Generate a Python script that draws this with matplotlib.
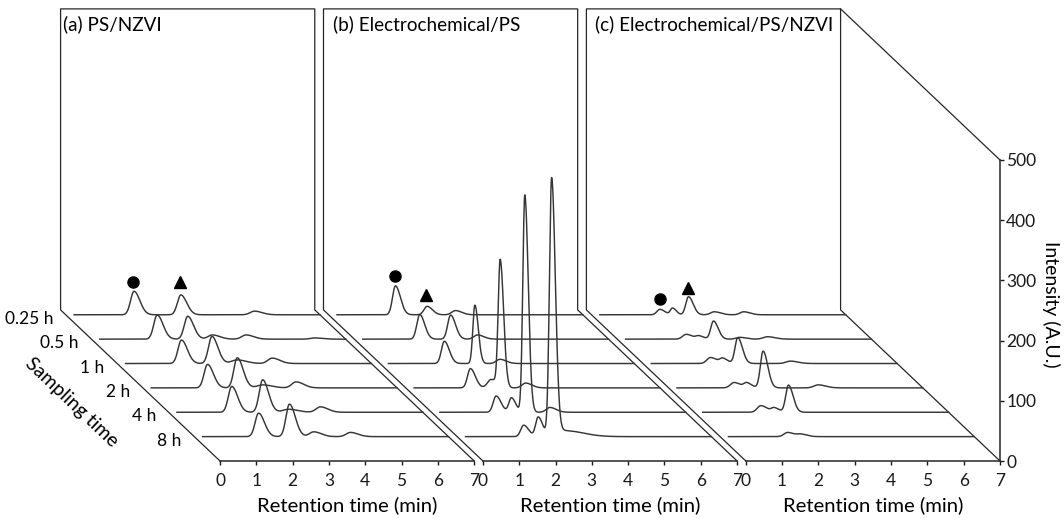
import matplotlib
matplotlib.use("Agg")
import matplotlib.pyplot as plt
import numpy as np

plt.rcParams["font.family"] = ["Lato", "DejaVu Sans"]
plt.rcParams["font.size"] = 14

# sampling times, back row (0.25 h) to front row (8 h)
sampling_labels = ["0.25 h", "0.5 h", "1 h", "2 h", "4 h", "8 h"]
sampling_depth = [6, 5, 4, 3, 2, 1]  # position on the depth axis (0 .. 6.2)

panel_titles = ["(a) PS/NZVI", "(b) Electrochemical/PS", "(c) Electrochemical/PS/NZVI"]
title_shift = [2, 7, 6]  # points right of the back-wall corner

# chromatogram peaks: (retention time [min], height [A.U.], width [min])
peaks_a = [
    [(1.88, 39, 0.095), (3.17, 33, 0.095), (5.20, 6, 0.12)],
    [(1.81, 40, 0.095), (2.65, 38, 0.095), (3.33, 7, 0.12), (4.26, 7, 0.12), (6.15, 2, 0.12)],
    [(1.77, 39, 0.095), (2.61, 45, 0.095), (3.30, 6, 0.15), (4.27, 9, 0.12)],
    [(1.78, 39, 0.095), (2.60, 50, 0.095), (3.30, 5, 0.15), (4.22, 10, 0.12)],
    [(1.74, 43, 0.095), (2.59, 54, 0.095), (3.30, 5, 0.15), (4.18, 9, 0.12)],
    [(1.77, 39, 0.095), (2.62, 54, 0.095), (3.29, 8, 0.12), (4.30, 7, 0.12)],
]
peaks_b = [
    [(1.84, 48, 0.08), (2.71, 14, 0.085), (3.49, 7, 0.10)],
    [(1.80, 41, 0.08), (2.65, 40, 0.08), (3.39, 7, 0.10)],
    [(1.77, 37, 0.08), (2.61, 97, 0.055), (3.30, 7, 0.10)],
    [(1.78, 32, 0.08), (2.35, 14, 0.10), (2.60, 209, 0.055), (3.30, 8, 0.10)],
    [(1.78, 27, 0.08), (2.20, 24, 0.07), (2.57, 361, 0.055), (3.26, 8, 0.10)],
    [(1.83, 19, 0.08), (2.23, 32, 0.07), (2.60, 425, 0.06), (2.95, 10, 0.30)],
]
peaks_c = [
    [(1.88, 9, 0.08), (2.23, 11, 0.06), (2.67, 30, 0.075), (3.38, 5, 0.10), (4.19, 5, 0.10)],
    [(1.90, 8, 0.10), (2.25, 5, 0.08), (2.65, 30, 0.075), (3.37, 3, 0.10), (4.14, 4, 0.12)],
    [(1.86, 10, 0.10), (2.20, 8, 0.08), (2.61, 43, 0.075), (4.06, 4, 0.12)],
    [(1.80, 9, 0.10), (2.15, 8, 0.08), (2.60, 61, 0.075), (4.12, 5, 0.12)],
    [(1.83, 11, 0.10), (2.20, 7, 0.08), (2.59, 45, 0.075)],
    [(1.86, 7, 0.10), (2.22, 4, 0.10)],
]
all_peaks = [peaks_a, peaks_b, peaks_c]

# peak markers on the 0.25 h row: (retention time, intensity)
circle_marks = [(1.86, 54), (1.84, 64), (1.88, 27)]
triangle_marks = [(3.15, 54), (2.69, 33), (2.67, 44)]

T_MAX = 7
GAP = 0.24          # break between panels (min)
DEPTH_MAX = 6.2
DEPTH_DX = -4.39    # shift of the back wall along x (min)
DEPTH_DY = 251      # shift of the back wall along y (A.U.)
I_MAX = 500

BOX = "#262626"
TRACE = "#363636"
TICK_FS = 12.5


def proj(panel, t, inten, depth):
    f = depth / DEPTH_MAX
    return panel * (T_MAX + GAP) + t + f * DEPTH_DX, inten + f * DEPTH_DY


def chromatogram(t, peaks):
    y = np.zeros_like(t)
    for t0, h, w in peaks:
        s = np.where(t < t0, w, 1.7 * w)
        y += h * np.exp(-0.5 * ((t - t0) / s) ** 2)
    return y


fig = plt.figure(figsize=(10.64, 5.18), dpi=100)
ax = fig.add_axes([220 / 1064, 57 / 518, 780 / 1064, 301 / 518])
ax.set_xlim(0, 3 * T_MAX + 2 * GAP)
ax.set_ylim(0, I_MAX)

for side in ["left", "top", "bottom"]:
    ax.spines[side].set_visible(False)
ax.spines["right"].set_color(BOX)
ax.spines["right"].set_linewidth(1.1)
ax.yaxis.tick_right()
ax.set_yticks(range(0, I_MAX + 1, 100))
ax.tick_params(axis="y", direction="out", length=3, width=1, pad=1.5,
               colors="#1a1a1a", labelsize=TICK_FS)

xt = [p * (T_MAX + GAP) + i for p in range(3) for i in range(T_MAX + 1)]
ax.set_xticks(xt)
ax.set_xticklabels([str(i) for p in range(3) for i in range(T_MAX + 1)])
ax.tick_params(axis="x", direction="out", length=3, width=1, pad=5.5,
               colors="#1a1a1a", labelsize=TICK_FS)

t = np.linspace(0.23, T_MAX, 900)
for p in range(3):
    x0 = p * (T_MAX + GAP)
    ax.plot([x0, x0 + T_MAX], [0, 0], color=BOX, lw=1.1, clip_on=False)

    corners = [(0, 0, 0), (0, 0, DEPTH_MAX), (0, I_MAX, DEPTH_MAX),
               (T_MAX, I_MAX, DEPTH_MAX), (T_MAX, 0, DEPTH_MAX), (T_MAX, 0, 0)]
    pts = [proj(p, a, b, c) for a, b, c in corners]
    ax.plot([q[0] for q in pts], [q[1] for q in pts], color=BOX, lw=0.9, clip_on=False)

    for depth, pk in zip(sampling_depth, all_peaks[p]):
        xs, ys = proj(p, t, chromatogram(t, pk), depth)
        ax.plot(xs, ys, color=TRACE, lw=1.05, clip_on=False)

    cx, cy = proj(p, circle_marks[p][0], circle_marks[p][1], sampling_depth[0])
    ax.plot(cx, cy, "o", ms=8, color="black", clip_on=False)
    tx, ty = proj(p, triangle_marks[p][0], triangle_marks[p][1], sampling_depth[0])
    ax.plot(tx, ty, "^", ms=8.5, color="black", clip_on=False)

    ax.annotate(panel_titles[p], proj(p, 0, I_MAX, DEPTH_MAX), xytext=(title_shift[p], -11),
                textcoords="offset points", ha="left", va="center", fontsize=13.6,
                annotation_clip=False)
    ax.annotate("Retention time (min)", (x0 + T_MAX / 2, 0), xytext=(0, -31.7),
                textcoords="offset points", ha="center", va="center", fontsize=14.6,
                annotation_clip=False)

# top edge towards the intensity axis
a = proj(2, T_MAX, I_MAX, DEPTH_MAX)
b = proj(2, T_MAX, I_MAX, 0)
ax.plot([a[0], b[0]], [a[1], b[1]], color=BOX, lw=0.9, clip_on=False)

for lab, depth in zip(sampling_labels, sampling_depth):
    ax.annotate(lab, proj(0, 0, 0, depth), xytext=(-9, -3), textcoords="offset points",
                ha="right", va="center", fontsize=TICK_FS, annotation_clip=False)

ax.annotate("Sampling time", proj(0, 0, 0, DEPTH_MAX / 2), xytext=(-49.7, -12),
            textcoords="offset points", ha="center", va="center", rotation=-43.5,
            rotation_mode="anchor", fontsize=14, annotation_clip=False)

ax.text(1.0654, 0.5216, "Intensity (A.U.)", transform=ax.transAxes, rotation=270,
        ha="center", va="center", fontsize=14)

fig.savefig("out.png", dpi=100)
